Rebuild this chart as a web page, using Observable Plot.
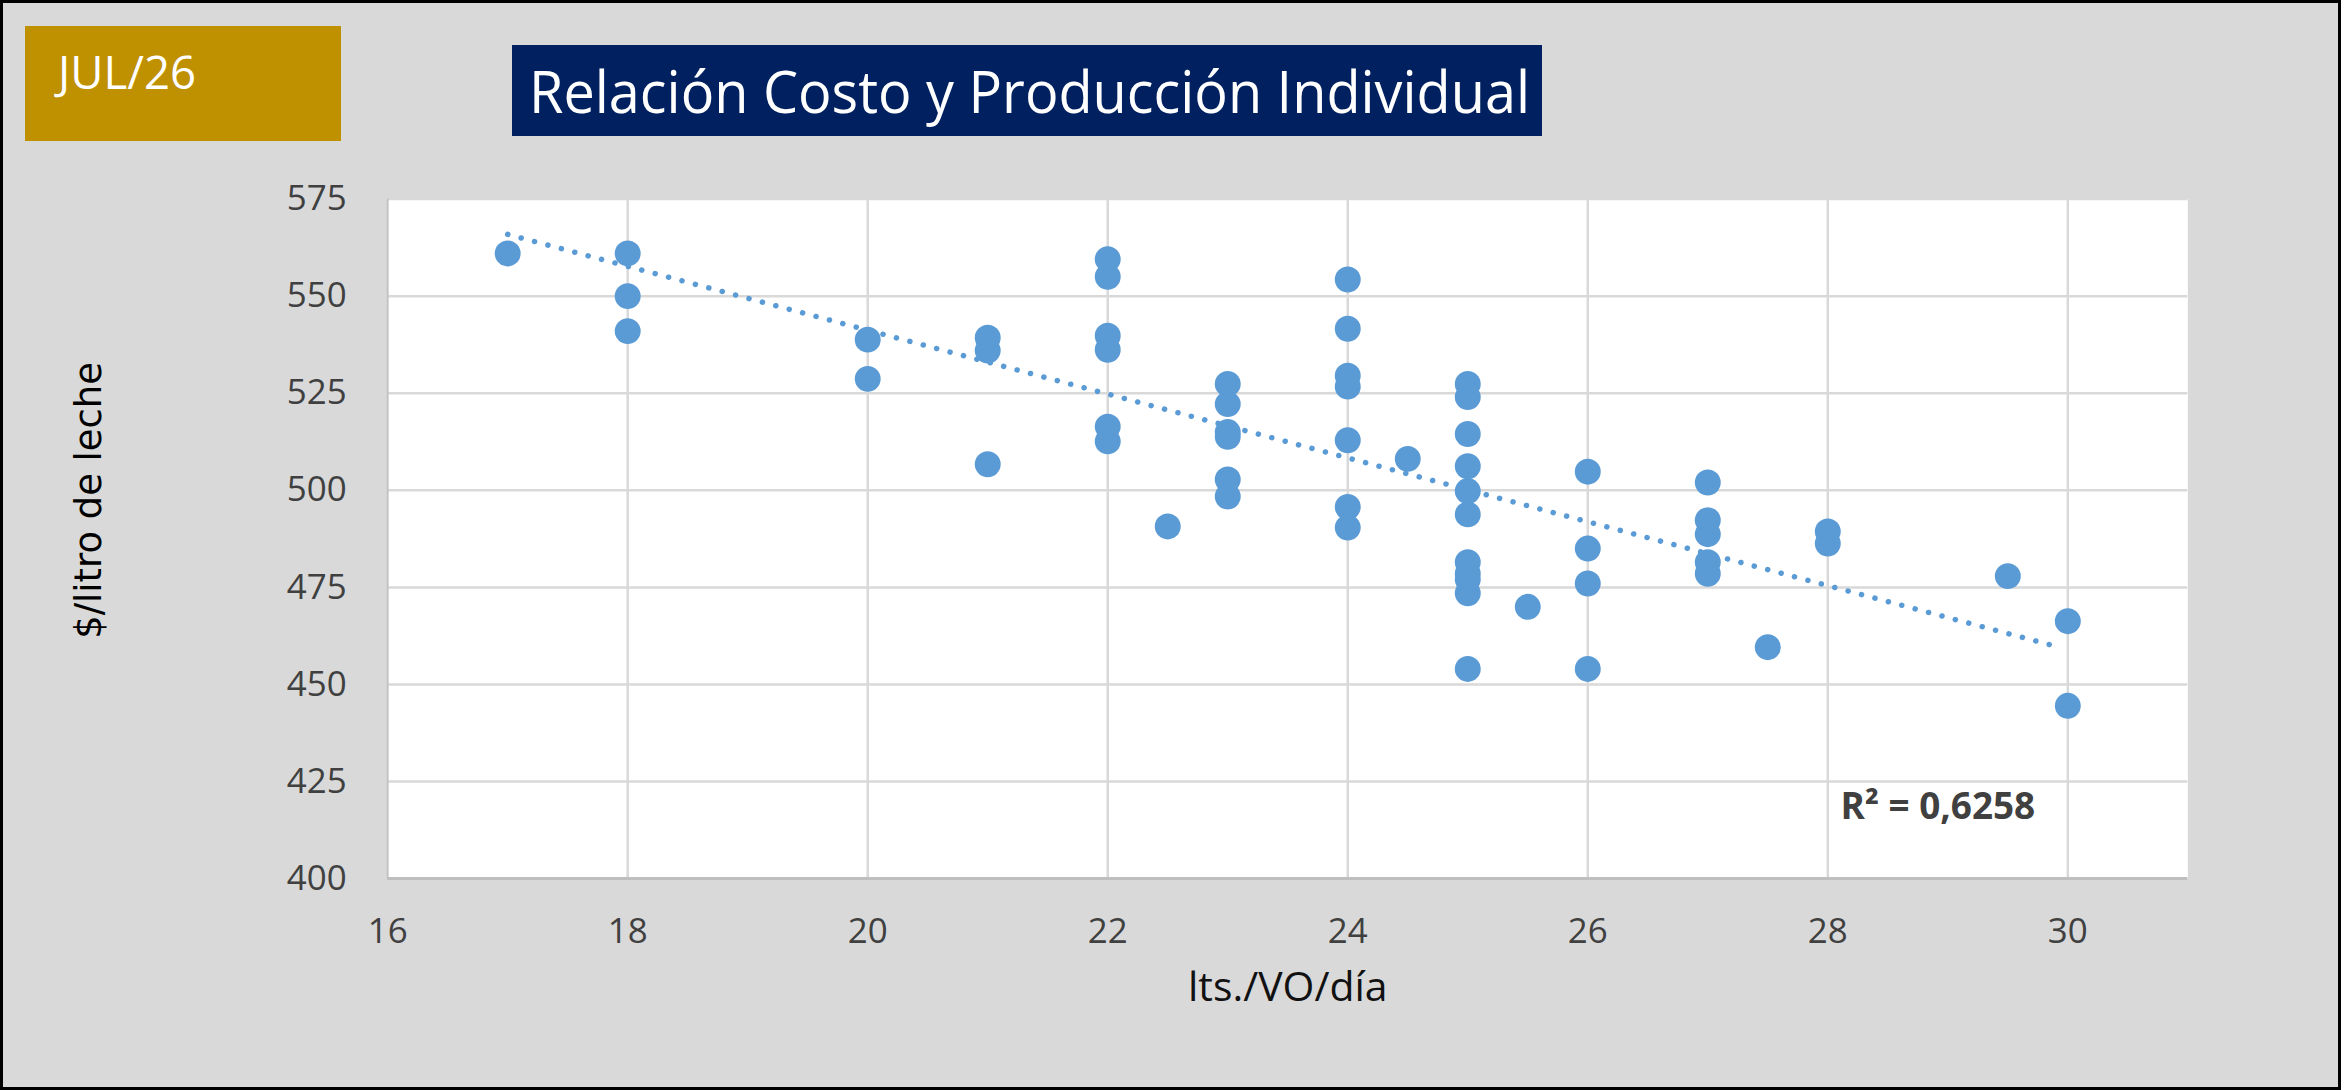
<!DOCTYPE html>
<html>
<head>
<meta charset="utf-8">
<script src="https://cdn.jsdelivr.net/npm/d3@7"></script>
<script src="https://cdn.jsdelivr.net/npm/@observablehq/plot@0.6"></script>
<style>
  html, body { margin: 0; padding: 0; background: #ffffff; }
  #wrap { position: relative; width: 2341px; height: 1090px; background: #d9d9d9; overflow: visible; }
  #chart { position: absolute; left: 0; top: 0; }
  #deco { position: absolute; left: 0; top: 0; pointer-events: none; }
  #border { position: absolute; left: 0; top: 0; width: 2341px; height: 1090px; box-sizing: border-box; border: 3px solid #000; pointer-events: none; }
</style>
</head>
<body>
<div id="wrap">
  <div id="chart"></div>
  <svg id="deco" width="2346" height="1090">
    <rect x="25" y="26" width="316" height="115" fill="#bf9000"></rect>
    <text x="58" y="89" fill="#ffffff" font-family="Open Sans" font-size="46" textLength="138" lengthAdjust="spacingAndGlyphs">JUL/26</text>
    <rect x="512" y="45" width="1030" height="91" fill="#002060"></rect>
    <text x="529" y="113" fill="#ffffff" font-family="Open Sans" font-size="58" textLength="1001" lengthAdjust="spacingAndGlyphs">Relación Costo y Producción Individual</text>
  </svg>
  <div id="border"></div>
</div>
<script>
// lts./VO/día (producción individual)
const produccion = [
  17,
  18, 18, 18,
  20, 20,
  21, 21, 21,
  22, 22, 22, 22, 22, 22,
  22.5,
  23, 23, 23, 23, 23, 23,
  24, 24, 24, 24, 24, 24, 24,
  24.5,
  25, 25, 25, 25, 25, 25, 25, 25, 25, 25, 25,
  25.5,
  26, 26, 26, 26,
  27, 27, 27, 27, 27,
  27.5,
  28, 28,
  29.5,
  30, 30
];
// $/litro de leche (costo)
const costo = [
  561,
  561, 550, 541,
  538.8, 528.7,
  539.3, 536, 506.7,
  559.5, 555, 539.8, 536.2, 516.4, 512.6,
  490.7,
  527.4, 522.2, 515, 513.8, 502.8, 498.4,
  554.3, 541.6, 529.5, 526.7, 512.9, 495.7, 490.4,
  508.1,
  527.4, 524, 514.5, 506.2, 499.8, 493.8, 481.5, 478.5, 477, 473.5, 454,
  470,
  504.8, 485, 476, 454,
  502, 492.3, 488.7, 481.5, 478.5,
  459.6,
  489.4, 486.3,
  477.9,
  466.3, 444.5
];
// Linear trendline
const trendX = [17, 29.94];
const trendY = [565.9, 459.5];

const xTicks = [16, 18, 20, 22, 24, 26, 28, 30];
const yTicks = [400, 425, 450, 475, 500, 525, 550, 575];

const xLabel = "lts./VO/día";
const yLabel = "$/litro de leche";
const r2Label = "R² = 0,6258";

const points = produccion.map((x, i) => ({x, y: costo[i]}));
const trend = trendX.map((x, i) => ({x, y: trendY[i]}));

const blue = "#5b9bd5";

const chart = Plot.plot({
  width: 2346,
  height: 1090,
  marginLeft: 388,
  marginRight: 154,
  marginTop: 199,
  marginBottom: 210,
  style: {background: "transparent", fontFamily: "Open Sans", overflow: "visible"},
  x: {domain: [16, 31]},
  y: {domain: [400, 575]},
  marks: [
    Plot.frame({fill: "#ffffff", stroke: "none"}),
    Plot.gridX(xTicks.slice(1), {stroke: "#d9d9d9", strokeOpacity: 1, strokeWidth: 2.5}),
    Plot.gridY(yTicks, {stroke: "#d9d9d9", strokeOpacity: 1, strokeWidth: 2.5}),
    Plot.ruleX([16], {stroke: "#c4c4c4", strokeWidth: 2}),
    Plot.ruleY([400], {stroke: "#bfbfbf", strokeWidth: 3}),
    Plot.axisX(xTicks, {tickSize: 0, tickPadding: 40, fontSize: 35, fill: "#404040", label: null, tickFormat: (d) => String(d)}),
    Plot.axisY(yTicks, {tickSize: 0, tickPadding: 41, fontSize: 35, fill: "#404040", label: null, tickFormat: (d) => String(d)}),
    Plot.dot(points, {x: "x", y: "y", r: 13, fill: blue, stroke: "none"}),
    Plot.line(trend, {x: "x", y: "y", stroke: blue, strokeWidth: 5.5, strokeDasharray: "0.1 13.8", strokeLinecap: "round"}),
    Plot.text([xLabel], {frameAnchor: "bottom", dy: 123, fontSize: 41, fill: "#111111", textAnchor: "middle"}),
    Plot.text([yLabel], {frameAnchor: "left", dx: -299, dy: -38.5, rotate: -90, textAnchor: "middle", fontSize: 37, fontFamily: "DejaVu Sans", fill: "#000000"}),
    Plot.text([r2Label], {frameAnchor: "top-left", dx: 1456, dy: 621, lineAnchor: "bottom", textAnchor: "start", fontWeight: "bold", fontSize: 37, fill: "#404040"})
  ]
});
document.getElementById("chart").appendChild(chart);
</script>
</body>
</html>
